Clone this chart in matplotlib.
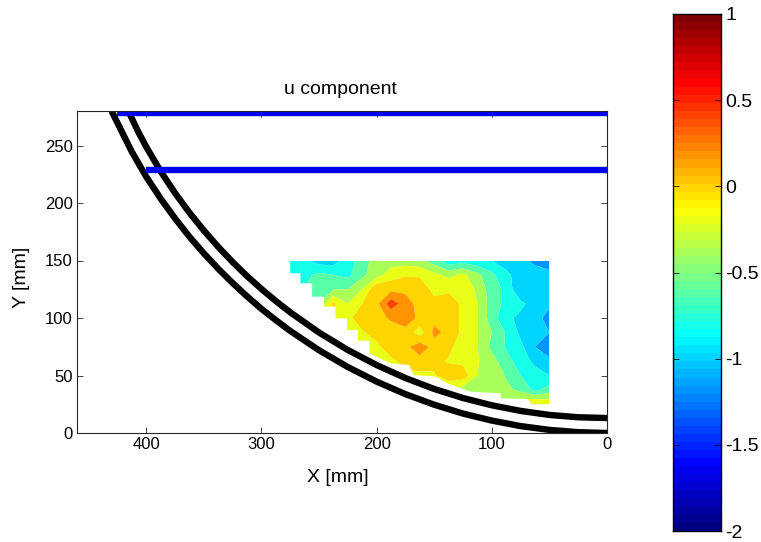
import numpy as np
import matplotlib
matplotlib.use("Agg")
import matplotlib.pyplot as plt
from matplotlib.colors import LinearSegmentedColormap
from matplotlib.patches import Polygon

plt.rcParams['font.family'] = ['Liberation Sans', 'DejaVu Sans']
plt.rcParams['font.size'] = 12

grid_x = [275, 262.5, 250, 237.5, 225, 212.5, 200, 187.5, 175, 162.5, 150, 137.5, 125, 112.5, 100, 87.5, 75, 62.5, 50]
grid_y = [150, 137.5, 125, 112.5, 100, 87.5, 75, 62.5, 50, 37.5, 25]
u_rows = [
    [-.8, -.85, -1, -1, -.8, -.6, -.4, -.4, -.4, -.45, -.6, -.85, -.8, -.85, -.9, -1, -1.05, -1.15, -1.2],
    [-.75, -.75, -.65, -.7, -.75, -.55, -.38, -.2, -.12, -.12, -.25, -.35, -.25, -.45, -.65, -.85, -1, -1, -1.05],
    [-.7, -.7, -.6, -.5, -.5, -.3, .08, .05, .05, 0, -.15, -.15, -.12, -.35, -.6, -.75, -1.1, -1, -1.05],
    [-.5, -.5, -.5, -.05, -.3, -.1, .05, .42, .2, .02, -.05, .05, -.15, -.3, -.6, -.75, -.85, -1, -1.05],
    [-.3, -.3, -.3, -.2, -.15, 0, .05, .12, .22, .05, .05, .05, -.15, -.3, -.6, -.85, -.95, -1, -1.2],
    [-.2, -.2, -.2, -.2, -.2, -.12, -.02, .03, .03, -.2, .15, .05, -.15, -.3, -.5, -.72, -.95, -1, -1.1],
    [-.3, -.3, -.3, -.3, -.3, -.25, -.15, .03, .05, .22, .03, -.05, -.2, -.3, -.55, -.72, -.85, -1.1, -1.25],
    [-.3, -.3, -.3, -.3, -.3, -.3, -.2, -.15, -.03, .02, -.05, -.12, -.15, -.28, -.42, -.62, -.8, -.95, -1.05],
    [-.3, -.3, -.3, -.3, -.3, -.3, -.2, -.2, -.15, -.15, -.12, .03, .02, -.3, -.35, -.52, -.7, -.82, -.9],
    [-.3, -.3, -.3, -.3, -.3, -.3, -.3, -.3, -.3, -.3, -.3, -.3, -.4, -.4, -.45, -.45, -.55, -.75, -.6],
    [-.3, -.3, -.3, -.3, -.3, -.3, -.3, -.3, -.3, -.3, -.3, -.3, -.3, -.3, -.3, -.3, -.15, -.05, -.15],
]
zoom_edge_x = [57, 835, 835, 785, 770, 690, 690, 600, 530, 495, 430, 415, 360, 297, 297, 262, 262, 230, 230, 195, 195, 160, 160, 125, 125, 90, 90, 57]
zoom_edge_y = [33, 33, 465, 465, 447, 445, 430, 425, 400, 380, 375, 345, 340, 310, 272, 272, 240, 240, 205, 205, 170, 170, 140, 140, 100, 100, 70, 70]
wall_outer_x = [0, 25, 50, 75, 100, 125, 150, 175, 200, 225, 250, 275, 287.5, 300, 312.5, 325, 337.5, 350, 362.5, 375, 387.5, 400, 412.5, 430]
wall_outer_y = [0, .7, 2.7, 6, 10.8, 16.9, 24.6, 33.8, 44.7, 57.4, 72, 88.8, 98.2, 108, 118.9, 130.5, 142.9, 156.3, 170.8, 186.7, 204, 223, 244.7, 280]
wall_inner_x = [0, 25, 50, 75, 100, 125, 150, 175, 200, 225, 250, 275, 287.5, 300, 312.5, 325, 337.5, 350, 362.5, 375, 387.5, 400, 407, 415]
wall_inner_y = [13, 13.7, 15.7, 19.2, 24.1, 30.4, 38.3, 47.8, 59.1, 72.2, 87.4, 105, 114.8, 125.3, 136.5, 148.7, 161.9, 176.2, 191.7, 208.8, 227.7, 249, 262.2, 279]
blue_x = [[425, 0], [400, 0]]
blue_y = [[278, 278], [229, 229]]
levels = [-1.5, -1.3, -1.1, -.9, -.7, -.5, -.3, -.1, .1, .3, .5]
cbar_ticks = [1, .5, 0, -.5, -1, -1.5, -2]
cbar_labels = ['1', '0.5', '0', '-0.5', '-1', '-1.5', '-2']
jet_nodes = [0, .125, .375, .625, .875, 1]
jet_colors = [(0, 0, .5), (0, 0, 1), (0, 1, 1), (1, 1, 0), (1, 0, 0), (.5, 0, 0)]

W, H = 761, 542
fig = plt.figure(figsize=(W / 100, H / 100), dpi=100)
ax = fig.add_axes([77 / W, 1 - 433 / H, 530 / W, 322 / H])
cmap = LinearSegmentedColormap.from_list('mjet', list(zip(jet_nodes, jet_colors)), N=64)
cs = ax.contourf(grid_x, grid_y, np.array(u_rows), levels=levels, cmap=cmap, vmin=-2, vmax=1, zorder=1, antialiased=True)
edge_x = (606 - (270 + np.array(zoom_edge_x) / 3)) / 1.15
edge_y = (433 - (250 + np.array(zoom_edge_y) / 3)) / 1.15
clip = Polygon(np.column_stack([edge_x, edge_y]), closed=True, transform=ax.transData, fc='none', ec='none')
ax.add_patch(clip)
cs.set_clip_path(clip)
ax.plot(wall_outer_x, wall_outer_y, color='k', lw=4.6, zorder=2, solid_capstyle='butt')
ax.plot(wall_inner_x, wall_inner_y, color='k', lw=4.6, zorder=2, solid_capstyle='butt')
for bx, by in zip(blue_x, blue_y):
    ax.plot(bx, by, color='#0000f0', lw=4.6, zorder=3, solid_capstyle='butt')
ax.set_xlim(460, 0)
ax.set_ylim(0, 280)
ax.set_xticks([400, 300, 200, 100, 0])
ax.set_yticks([0, 50, 100, 150, 200, 250])
ax.tick_params(direction='in', top=True, right=True, length=4, width=.6, color='#262626', labelcolor='k', labelsize=12, pad=3)
for s in ax.spines.values():
    s.set_linewidth(.8)
    s.set_color('#262626')
    s.set_zorder(5)
fig.text(338 / W, 1 - 477 / H, 'X [mm]', fontsize=14, ha='center', va='center')
fig.text(22 / W, 1 - 277 / H, 'Y [mm]', fontsize=14, ha='center', va='center', rotation=90)
fig.text(340 / W, 1 - 89 / H, 'u component', fontsize=14, ha='center', va='center')

cax = fig.add_axes([673 / W, 1 - 531 / H, 48 / W, 517 / H])
grad = np.linspace(-2, 1, 64).reshape(-1, 1)
cax.imshow(grad, cmap=cmap, vmin=-2, vmax=1, origin='lower', aspect='auto', extent=[0, 1, -2, 1])
cax.set_xticks([])
cax.yaxis.tick_right()
cax.set_yticks(cbar_ticks)
cax.set_yticklabels(cbar_labels)
cax.tick_params(axis='y', direction='in', left=True, right=True, length=4, width=.6, labelsize=14, pad=3)
for s in cax.spines.values():
    s.set_linewidth(1)
fig.savefig('out.png', dpi=100)
